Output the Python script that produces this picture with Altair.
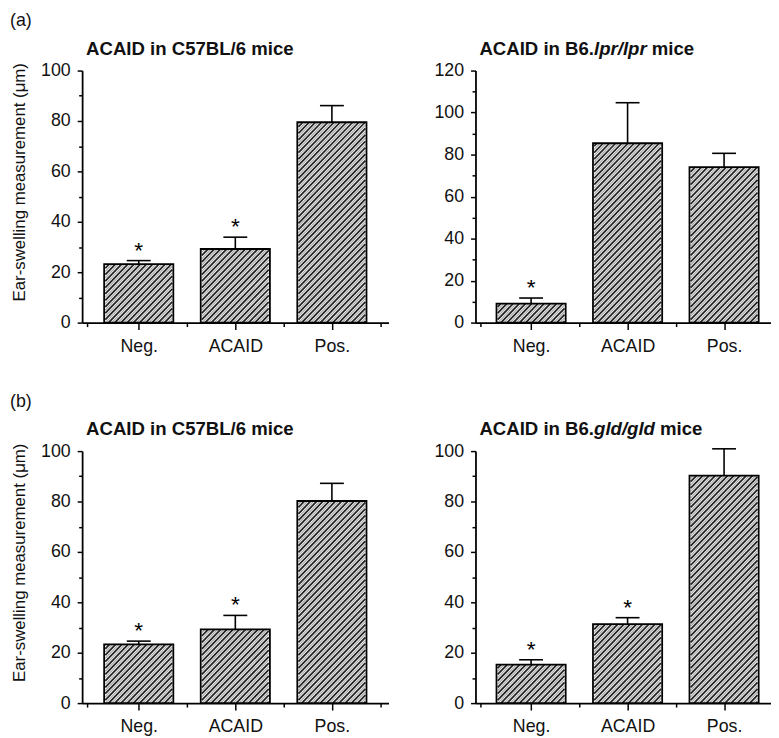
import altair as alt
import pandas as pd

# ---------------- data ----------------
categories = ["Neg.", "ACAID", "Pos."]

a_left_mean = [23.2, 29.2, 79.5]
a_left_top = [24.6, 33.9, 86.1]
a_left_star = [True, True, False]

a_right_mean = [9.0, 85.4, 74.0]
a_right_top = [11.7, 104.7, 80.6]
a_right_star = [True, False, False]

b_left_mean = [23.3, 29.3, 80.2]
b_left_top = [24.6, 34.8, 87.2]
b_left_star = [True, True, False]

b_right_mean = [15.3, 31.3, 90.3]
b_right_top = [17.2, 33.9, 100.9]
b_right_star = [True, True, False]

a_left_title = ["ACAID in C57BL/6 mice"]
a_right_title = ["ACAID in B6.", "lpr/lpr", " mice"]
b_left_title = ["ACAID in C57BL/6 mice"]
b_right_title = ["ACAID in B6.", "gld/gld", " mice"]
title_italic = [False, True, False]

y_title = "Ear-swelling measurement (\u03bcm)"
panel_labels = ["(a)", "(b)"]

# ---------------- styling ----------------
FONT = "Liberation Sans"
FS = 18
YTFS = 17
TFS = 18.8
H = 255
BAR_W = 70
CAP_W = 25
HATCH_P = 6.5

# Arial bold advance widths (per 1000 em) used to place the mixed-style titles
BOLD = {'A': 722, 'B': 722, 'C': 722, 'D': 722, 'I': 278, 'L': 611, 'a': 556,
        'c': 556, 'd': 611, 'e': 556, 'g': 611, 'i': 278, 'l': 278, 'm': 889,
        'n': 611, 'p': 611, 'r': 389, '5': 556, '6': 556, '7': 556, '/': 278,
        '.': 278, ' ': 278}


def text_w(s, fs):
    return sum(BOLD.get(ch, 556) for ch in s) * fs / 1000.0


def panel(means, tops, stars, ymax, title_pieces, label, show_ytitle, xmin, xmax, width):
    df = pd.DataFrame({"idx": [0, 1, 2], "mean": means, "top": tops, "star": stars})
    px_x = width / (xmax - xmin)
    px_y = H / ymax
    half = BAR_W / 2 / px_x
    df["cx1"] = df["idx"] - CAP_W / 2 / px_x
    df["cx2"] = df["idx"] + CAP_W / 2 / px_x
    df["zero"] = 0.0

    # hatch lines (45 degrees) clipped to each bar
    rows = []
    for i, m in enumerate(means):
        w = BAR_W
        h = m * px_y
        x0 = i - half
        c = -w + 1.5
        k = 0
        while c < h:
            xs_ = max(0.0, -c)
            xe_ = min(w, h - c)
            if xe_ > xs_:
                rows.append({"hx": x0 + xs_ / px_x, "hy": (xs_ + c) / px_y,
                             "hx2": x0 + xe_ / px_x, "hy2": (xe_ + c) / px_y,
                             "kind": "dark" if k % 2 == 0 else "light"})
            c += HATCH_P / 2
            k += 1
    hatch = pd.DataFrame(rows)

    xs = alt.Scale(domain=[xmin, xmax], nice=False, zero=False)
    ys = alt.Scale(domain=[0, ymax], nice=False, zero=True)

    xvals = [v for v in [xmin, 0, 0.5, 1, 1.5, 2, 2.5] if v <= xmax]
    lab_expr = " : ".join(
        [f"datum.value == {i} ? '{c}'" for i, c in enumerate(categories)]) + " : ''"
    x_axis = alt.Axis(
        values=xvals, labelExpr=lab_expr, title=None,
        grid=False, labelFontSize=FS, labelFont=FONT, labelColor="#111",
        labelPadding=8, labelOverlap=False, labelFlush=False,
        tickColor="black", tickWidth=1.5,
        tickSize={"condition": {"test": "datum.value % 1 != 0", "value": 4}, "value": 7},
        domainColor="black", domainWidth=1.8)
    yvals = list(range(0, ymax + 1, 10))
    y_kwargs = dict(
        values=yvals, labelExpr="datum.value % 20 == 0 ? datum.label : ''",
        grid=False, labelFontSize=FS, labelFont=FONT, labelColor="#111",
        labelPadding=7, labelOverlap=False, labelFlush=False,
        tickColor="black", tickWidth=1.5,
        tickSize={"condition": {"test": "datum.value % 20 != 0", "value": 3.5}, "value": 5},
        domainColor="black", domainWidth=1.8)
    if show_ytitle:
        y_axis = alt.Axis(title=y_title, titleFontSize=YTFS, titleFont=FONT,
                          titleFontWeight="normal", titleColor="#111",
                          titleAngle=-90, titleX=-58, titleY=H / 2 - 15,
                          titleAlign="center", titleBaseline="alphabetic", **y_kwargs)
    else:
        y_axis = alt.Axis(title=None, **y_kwargs)

    def X(f):
        return alt.X(f, scale=xs, axis=x_axis)

    def Y(f):
        return alt.Y(f, scale=ys, axis=y_axis)

    base = alt.Chart(df)
    fill = base.mark_bar(width=BAR_W, fill="white", orient="vertical").encode(
        x=X("idx:Q"), y=Y("mean:Q"), y2="zero:Q")
    dark = alt.Chart(hatch[hatch.kind == "dark"]).mark_rule(
        color="#222222", strokeWidth=1.8).encode(
        x=X("hx:Q"), y=Y("hy:Q"), x2="hx2:Q", y2="hy2:Q")
    light = alt.Chart(hatch[hatch.kind == "light"]).mark_rule(
        color="#a6a6a6", strokeWidth=1.2).encode(
        x=X("hx:Q"), y=Y("hy:Q"), x2="hx2:Q", y2="hy2:Q")
    outline = base.mark_bar(width=BAR_W, fill="transparent", stroke="black",
                            strokeWidth=1.8, orient="vertical").encode(
        x=X("idx:Q"), y=Y("mean:Q"), y2="zero:Q")
    stem = base.mark_rule(color="black", strokeWidth=1.6).encode(
        x=X("idx:Q"), y=Y("mean:Q"), y2="top:Q")
    cap = base.mark_rule(color="black", strokeWidth=1.6).encode(
        x=X("cx1:Q"), x2="cx2:Q", y=Y("top:Q"))
    star = alt.Chart(df[df.star]).mark_text(
        text="*", fontSize=23, font=FONT, dy=-3, baseline="alphabetic",
        align="center", color="black").encode(
        x=X("idx:Q"), y=Y("top:Q"))

    layers = [fill, dark, light, outline, stem, cap, star]

    off = 4.0
    for piece, it in zip(title_pieces, title_italic):
        lead = len(piece) - len(piece.lstrip(" "))
        off_here = off + text_w(piece[:lead], TFS)
        txt = piece.strip(" ")
        t = alt.Chart(pd.DataFrame({"t": [txt]})).mark_text(
            fontSize=TFS, font=FONT, fontWeight="bold",
            fontStyle="italic" if it else "normal",
            align="left", baseline="alphabetic", color="#111").encode(
            text="t:N", x=alt.value(off_here), y=alt.value(-16))
        layers.append(t)
        off += text_w(piece, TFS)

    if label:
        lab = alt.Chart(pd.DataFrame({"t": [label]})).mark_text(
            fontSize=FS, font=FONT, align="left", baseline="alphabetic",
            color="#111").encode(text="t:N", x=alt.value(-73), y=alt.value(-45))
        layers.append(lab)

    return alt.layer(*layers).properties(width=width, height=H)


L_MIN, L_MAX, L_W = -0.535, 2.535, 310
R_MIN, R_MAX, R_W = -0.525, 2.43, 298.5

a_left = panel(a_left_mean, a_left_top, a_left_star, 100, a_left_title,
               panel_labels[0], True, L_MIN, L_MAX, L_W)
a_right = panel(a_right_mean, a_right_top, a_right_star, 120, a_right_title,
                None, False, R_MIN, R_MAX, R_W)
b_left = panel(b_left_mean, b_left_top, b_left_star, 100, b_left_title,
               panel_labels[1], True, L_MIN, L_MAX, L_W)
b_right = panel(b_right_mean, b_right_top, b_right_star, 100, b_right_title,
                None, False, R_MIN, R_MAX, R_W)

row_a = alt.hconcat(a_left, a_right, spacing=45)
row_b = alt.hconcat(b_left, b_right, spacing=45)

chart = alt.vconcat(row_a, row_b, spacing=38).properties(
    padding={"left": 2, "top": 0, "right": 0, "bottom": 0}
).configure(font=FONT, background="white").configure_view(stroke=None)

chart.save("out.html", embed_options={"renderer": "svg", "actions": False})
